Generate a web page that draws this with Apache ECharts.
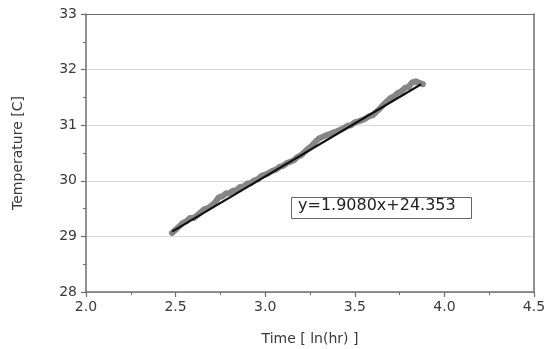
<!DOCTYPE html>
<html><head><meta charset="utf-8">
<script src="https://cdn.jsdelivr.net/npm/echarts@6/dist/echarts.min.js"></script>
<style>html,body{margin:0;padding:0;background:#fff}#c{width:554px;height:349px}</style>
</head><body><div id="c"></div>
<script>
var timeX = [2.48,2.50,2.52,2.54,2.56,2.58,2.60,2.62,2.64,2.66,2.68,2.70,2.72,2.74,2.76,2.78,2.80,2.82,2.84,2.86,2.88,2.90,2.92,2.94,2.96,2.98,3.00,3.02,3.04,3.06,3.08,3.10,3.12,3.14,3.16,3.18,3.20,3.22,3.24,3.26,3.28,3.30,3.32,3.34,3.36,3.38,3.40,3.42,3.44,3.46,3.48,3.50,3.52,3.54,3.56,3.58,3.60,3.62,3.64,3.66,3.68,3.70,3.72,3.74,3.76,3.78,3.80,3.82,3.84,3.86,3.88];
var tempY = [29.06,29.12,29.18,29.24,29.27,29.33,29.33,29.38,29.43,29.49,29.51,29.55,29.61,29.70,29.72,29.77,29.78,29.82,29.83,29.89,29.90,29.95,29.96,30.01,30.03,30.09,30.11,30.14,30.18,30.20,30.25,30.27,30.32,30.34,30.37,30.43,30.46,30.52,30.58,30.63,30.70,30.76,30.79,30.82,30.84,30.87,30.89,30.92,30.95,30.99,31.00,31.05,31.07,31.09,31.12,31.16,31.18,31.24,31.30,31.37,31.43,31.49,31.52,31.58,31.61,31.67,31.69,31.77,31.79,31.76,31.74];
var fitX = [2.48, 3.87];
var fitY = [29.085, 31.737];
var fitLabel = 'y=1.9080x+24.353';
var xTitle = 'Time [ ln(hr) ]';
var yTitle = 'Temperature [C]';

var chart = echarts.init(document.getElementById('c'));
var font = 'DejaVu Sans, Verdana, sans-serif';
var axisCol = '#6e6e6e';
var txtCol = '#3a3a3a';
chart.setOption({
  animation: false,
  grid: {left: 86, right: 20, top: 14, bottom: 57, containLabel: false, outerBoundsMode: 'none'},
  xAxis: [{
    type: 'value', min: 2, max: 4.5, interval: 0.5,
    name: xTitle, nameLocation: 'middle', nameGap: 40,
    nameTextStyle: {fontFamily: font, fontSize: 14, color: txtCol},
    axisLine: {show: true, lineStyle: {color: axisCol, width: 1.5}},
    axisTick: {show: true, length: 5, lineStyle: {color: axisCol, width: 1.2}},
    minorTick: {show: true, splitNumber: 2, length: 3, lineStyle: {color: axisCol}},
    axisLabel: {fontFamily: font, fontSize: 14, color: txtCol, margin: 8, formatter: function(v){return v.toFixed(1);}},
    splitLine: {show: false}
  }, {
    type: 'value', position: 'top', min: 2, max: 4.5,
    axisLine: {show: true, lineStyle: {color: axisCol, width: 1}},
    axisTick: {show: false}, axisLabel: {show: false}, splitLine: {show: false}
  }],
  yAxis: [{
    type: 'value', min: 28, max: 33, interval: 1,
    name: yTitle, nameLocation: 'middle', nameGap: 61, nameRotate: 90,
    nameTextStyle: {fontFamily: font, fontSize: 14, color: txtCol},
    axisLine: {show: true, lineStyle: {color: axisCol, width: 1.5}},
    axisTick: {show: true, length: 5, lineStyle: {color: axisCol, width: 1.2}},
    minorTick: {show: true, splitNumber: 2, length: 3, lineStyle: {color: axisCol}},
    axisLabel: {fontFamily: font, fontSize: 14, color: txtCol, margin: 9},
    splitLine: {show: true, lineStyle: {color: '#d9d9d9', width: 1}}
  }, {
    type: 'value', position: 'right', min: 28, max: 33,
    axisLine: {show: true, lineStyle: {color: axisCol, width: 1.5}},
    axisTick: {show: false}, axisLabel: {show: false}, splitLine: {show: false}
  }],
  series: [{
    type: 'line', data: timeX.map(function(x,i){return [x, tempY[i]];}),
    showSymbol: false, smooth: false,
    lineStyle: {color: '#858585', width: 6, cap: 'round', join: 'round'}
  }, {
    type: 'line', data: fitX.map(function(x,i){return [x, fitY[i]];}),
    showSymbol: false,
    lineStyle: {color: '#111', width: 2.2}
  }],
  graphic: [{
    type: 'rect', left: 291, top: 197,
    shape: {width: 180, height: 21},
    style: {fill: '#fff', stroke: '#666', lineWidth: 1}
  }, {
    type: 'text', left: 298, top: 198,
    style: {text: fitLabel, fontFamily: font, fontSize: 16, fill: '#222'}
  }]
});
</script></body></html>
